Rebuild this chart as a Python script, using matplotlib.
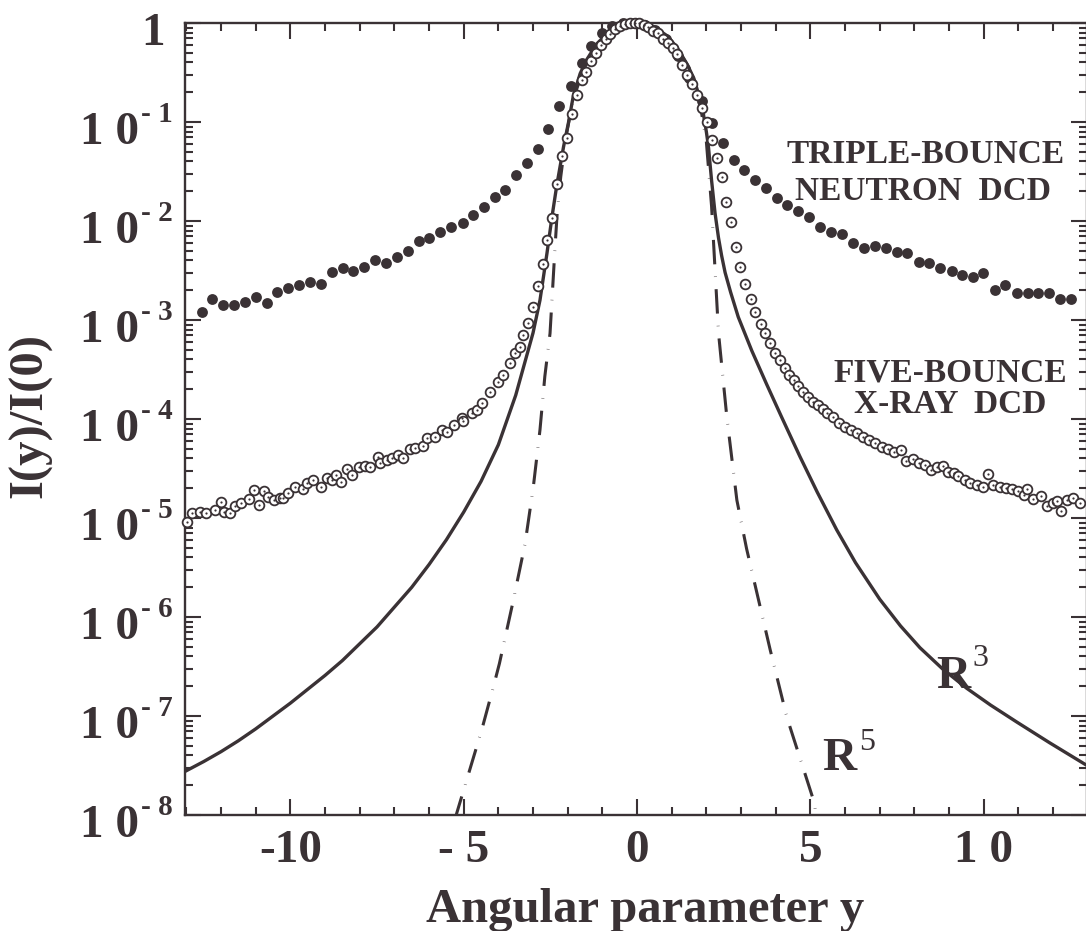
import numpy as np
import matplotlib
matplotlib.use('Agg')
import matplotlib.pyplot as plt
from matplotlib.ticker import MultipleLocator, LogLocator, NullFormatter

INK = '#3a3235'
plt.rcParams['font.family'] = ['Liberation Serif', 'DejaVu Serif']
plt.rcParams['font.weight'] = 'bold'

# ---------------- data (y values given as log10) -------------
neutron_x = [-12.56, -12.27, -11.93, -11.62, -11.31, -10.99, -10.68, -10.38, -10.06, -9.74,
             -9.43, -9.12, -8.81, -8.49, -8.18, -7.87, -7.56, -7.24, -6.93, -6.60,
             -6.28, -5.99, -5.68, -5.37, -5.03, -4.72, -4.41, -4.10, -3.81, -3.49,
             -3.18, -2.87, -2.56, -2.24, -1.91, -1.60, -1.34, -1.02, -0.71, -0.40,
             -0.09, 0.22, 0.53, 0.84, 1.17, 1.50, 1.865, 2.154, 2.47, 2.80,
             3.09, 3.40, 3.72, 4.03, 4.34, 4.65, 4.97, 5.28, 5.59, 5.90,
             6.24, 6.55, 6.86, 7.18, 7.49, 7.78, 8.12, 8.43, 8.74, 9.08,
             9.38, 9.69, 9.99, 10.33, 10.62, 10.97, 11.27, 11.58, 11.89, 12.21, 12.53]
neutron_log = [-2.917, -2.791, -2.848, -2.848, -2.815, -2.770, -2.831, -2.714, -2.680, -2.646,
               -2.613, -2.636, -2.512, -2.478, -2.502, -2.461, -2.394, -2.421, -2.365, -2.300,
               -2.199, -2.175, -2.108, -2.064, -2.017, -1.939, -1.862, -1.754, -1.687, -1.535,
               -1.411, -1.276, -1.070, -0.838, -0.636, -0.407, -0.232, -0.100, -0.030, 0.0,
               0.0, -0.020, -0.070, -0.160, -0.330, -0.560, -0.785, -1.007, -1.216, -1.384,
               -1.485, -1.586, -1.670, -1.771, -1.838, -1.896, -1.963, -2.057, -2.108, -2.132,
               -2.226, -2.276, -2.249, -2.276, -2.310, -2.320, -2.411, -2.421, -2.478, -2.500,
               -2.550, -2.565, -2.530, -2.700, -2.650, -2.725, -2.730, -2.725, -2.725, -2.790, -2.790]

xray_x = [-12.99, -12.85, -12.61, -12.42, -12.18, -12.00, -11.92, -11.74, -11.60, -11.43,
          -11.18, -11.05, -10.90, -10.76, -10.64, -10.47, -10.30, -10.20, -10.06, -9.87,
          -9.65, -9.53, -9.34, -9.13, -8.95, -8.81, -8.67, -8.55, -8.38, -8.23,
          -8.01, -7.85, -7.70, -7.46, -7.42, -7.22, -7.08, -6.89, -6.74, -6.55,
          -6.41, -6.18, -6.07, -5.83, -5.64, -5.49, -5.28, -5.06, -5.01, -4.77,
          -4.63, -4.48, -4.24, -4.00, -3.86, -3.67, -3.52, -3.38, -3.28, -3.14,
          -2.99, -2.85, -2.72, -2.60, -2.46, -2.32, -2.17, -2.03, -1.885, -1.74,
          -1.596, -1.47, -1.33, -1.18, -1.048, -0.904, -0.779, -0.635, -0.490, -0.346,
          -0.202, -0.058, 0.067, 0.202, 0.327, 0.471, 0.615, 0.760, 0.904, 1.029,
          1.144, 1.288, 1.433, 1.577, 1.74, 1.865, 2.01, 2.15, 2.30, 2.44,
          2.57, 2.70, 2.86, 2.97, 3.12, 3.28, 3.40, 3.57, 3.69, 3.84,
          3.98, 4.13, 4.27, 4.39, 4.52, 4.65, 4.80, 4.94, 5.09, 5.23,
          5.35, 5.47, 5.66, 5.84, 6.00, 6.16, 6.34, 6.53, 6.70, 6.87,
          7.06, 7.25, 7.41, 7.61, 7.76, 7.97, 8.14, 8.31, 8.48, 8.64,
          8.84, 8.98, 9.13, 9.27, 9.46, 9.61, 9.80, 9.97, 10.11, 10.28,
          10.47, 10.65, 10.81, 11.00, 11.15, 11.24, 11.43, 11.65, 11.82, 12.01,
          12.11, 12.22, 12.39, 12.59, 12.78]
xray_log = [-5.037, -4.953, -4.936, -4.953, -4.919, -4.835, -4.936, -4.953, -4.879, -4.852,
            -4.812, -4.717, -4.869, -4.724, -4.791, -4.818, -4.801, -4.801, -4.751, -4.690,
            -4.710, -4.643, -4.616, -4.690, -4.593, -4.616, -4.566, -4.633, -4.508, -4.566,
            -4.482, -4.475, -4.488, -4.381, -4.448, -4.414, -4.397, -4.364, -4.397, -4.306,
            -4.296, -4.269, -4.195, -4.185, -4.111, -4.128, -4.061, -3.993, -4.017, -3.943,
            -3.909, -3.842, -3.724, -3.623, -3.556, -3.438, -3.337, -3.269, -3.152, -3.027,
            -2.872, -2.657, -2.430, -2.192, -1.973, -1.626, -1.343, -1.160, -0.919, -0.727,
            -0.576, -0.490, -0.381, -0.300, -0.222, -0.165, -0.111, -0.064, -0.030, -0.010,
            0.0, 0.0, 0.0, -0.020, -0.044, -0.078, -0.104, -0.165, -0.205, -0.256,
            -0.313, -0.424, -0.525, -0.616, -0.727, -0.862, -0.997, -1.180, -1.367, -1.559,
            -1.805, -2.007, -2.259, -2.468, -2.640, -2.788, -2.916, -3.040, -3.135, -3.229,
            -3.330, -3.404, -3.488, -3.556, -3.610, -3.667, -3.724, -3.774, -3.825, -3.859,
            -3.900, -3.943, -3.976, -4.044, -4.077, -4.111, -4.145, -4.178, -4.212, -4.246,
            -4.280, -4.306, -4.330, -4.313, -4.421, -4.407, -4.448, -4.465, -4.515, -4.482,
            -4.475, -4.532, -4.549, -4.576, -4.616, -4.650, -4.667, -4.690, -4.556, -4.667,
            -4.690, -4.700, -4.710, -4.724, -4.768, -4.710, -4.812, -4.778, -4.879, -4.845,
            -4.825, -4.926, -4.818, -4.801, -4.845]

r3_x = [-13.04, -12.5, -12.0, -11.5, -11.0, -10.5, -10.0, -9.5, -9.0, -8.5,
        -8.0, -7.5, -7.0, -6.5, -6.0, -5.5, -5.0, -4.5, -4.0, -3.5,
        -3.0, -2.8, -2.6, -2.45, -2.32, -2.12, -1.98, -1.84, -1.64, -1.45,
        -1.16, -0.87, -0.50, 0.00, 0.50, 0.87, 1.16, 1.45, 1.64, 1.80,
        1.91, 2.00, 2.06, 2.15, 2.25, 2.35, 2.44, 2.54, 2.70, 2.92,
        3.31, 3.74, 4.17, 4.70, 5.20, 5.76, 6.30, 7.00, 7.60, 8.16,
        8.80, 9.51, 10.20, 10.95, 11.90, 12.98]
r3_log = [-7.56, -7.46, -7.36, -7.25, -7.13, -7.00, -6.87, -6.73, -6.59, -6.44,
          -6.27, -6.10, -5.90, -5.70, -5.47, -5.22, -4.94, -4.63, -4.26, -3.76,
          -3.13, -2.80, -2.33, -1.95, -1.65, -1.25, -1.01, -0.74, -0.51, -0.37,
          -0.21, -0.11, -0.03, 0.00, -0.04, -0.13, -0.25, -0.42, -0.56, -0.75,
          -0.91, -1.10, -1.25, -1.59, -1.92, -2.17, -2.35, -2.52, -2.72, -2.97,
          -3.31, -3.65, -3.98, -4.38, -4.74, -5.12, -5.45, -5.82, -6.09, -6.31,
          -6.52, -6.72, -6.89, -7.06, -7.27, -7.50]

r5_x = [-5.25, -5.20, -4.84, -4.48, -4.14, -3.97, -3.58, -3.23, -2.99, -2.80,
        -2.66, -2.51, -2.37, -2.30, -2.20, -2.05, -1.85, -1.50, -1.00, -0.50,
        0.00, 0.50, 1.00, 1.50, 1.80, 2.00, 2.15, 2.25, 2.35, 2.59,
        2.88, 3.16, 3.84, 4.32, 5.09, 5.20]
r5_log = [-8.05, -7.98, -7.56, -7.14, -6.70, -6.47, -5.85, -5.26, -4.68, -4.11,
          -3.57, -3.135, -2.29, -1.90, -1.55, -1.15, -0.78, -0.42, -0.17, -0.04,
          0.00, -0.04, -0.17, -0.45, -0.78, -1.20, -1.85, -2.49, -3.13, -3.98,
          -4.82, -5.31, -6.33, -7.01, -7.85, -8.05]

x_ticks = [-10, -5, 0, 5, 10]
x_tick_labels = ['-10', '- 5', '0', '5', '1 0']
y_decades = [1, 2, 3, 4, 5, 6, 7, 8]

# ---------------- figure -------------
W, H = 1086, 931
fig = plt.figure(figsize=(W / 100, H / 100), dpi=100)
ax = fig.add_axes([185 / W, 116 / H, 902 / W, 792 / H])
ax.set_yscale('log')
ax.set_xlim(-13.04, 12.98)
ax.set_ylim(1e-8, 1)

ax.plot(r3_x, 10.0 ** np.array(r3_log), color=INK, lw=2.4, zorder=2)
ax.plot(r5_x, 10.0 ** np.array(r5_log), color=INK, lw=2.2, zorder=2,
        linestyle=(0, (8, 4.0, 0.15, 4.0)), dash_capstyle='butt')
ax.plot(neutron_x, 10.0 ** np.array(neutron_log), 'o', ms=7.8, mfc=INK, mec=INK,
        mew=0, zorder=3, clip_on=False)
ax.plot(xray_x, 10.0 ** np.array(xray_log), 'o', ms=7.0, mfc='white', mec=INK,
        mew=1.3, zorder=4, clip_on=False)
ax.plot(xray_x, 10.0 ** np.array(xray_log), 'o', ms=1.6, mfc=INK, mec=INK,
        mew=0, zorder=5, clip_on=False)

# ticks
ax.set_xticks(x_ticks)
ax.set_xticklabels(x_tick_labels)
ax.xaxis.set_minor_locator(MultipleLocator(1))
ax.yaxis.set_major_locator(LogLocator(base=10, numticks=20))
ax.yaxis.set_minor_locator(LogLocator(base=10, subs=np.arange(2, 10), numticks=20))
ax.yaxis.set_major_formatter(NullFormatter())
ax.yaxis.set_minor_formatter(NullFormatter())
ax.tick_params(which='both', direction='in', top=True, right=True, width=1.5, color=INK)
ax.tick_params(which='major', length=11.5)
ax.tick_params(which='minor', length=5.5)
ax.tick_params(axis='x', labelsize=34, pad=11, labelcolor=INK)
for lab in ax.get_xticklabels():
    lab.set_fontweight('bold')
for sp in ax.spines.values():
    sp.set_linewidth(1.7)
    sp.set_color(INK)

# y tick labels  "1 0^- k"
ax.annotate('1', xy=(0, 1.0), xycoords=('axes fraction', 'data'), xytext=(-14.4, -15.8),
            textcoords='offset points', ha='right', va='baseline', fontsize=34,
            color=INK, annotation_clip=False)
for k in y_decades:
    ax.annotate('1 0', xy=(0, 10.0 ** -k), xycoords=('axes fraction', 'data'),
                xytext=(-33.1, -15.8), textcoords='offset points', ha='right',
                va='baseline', fontsize=34, color=INK, annotation_clip=False)
    ax.annotate('- %d' % k, xy=(0, 10.0 ** -k), xycoords=('axes fraction', 'data'),
                xytext=(-31.5, 0), textcoords='offset points', ha='left',
                va='baseline', fontsize=21, color=INK, annotation_clip=False)

# axis labels
fig.text(645 / W, 9 / H, 'Angular parameter y', ha='center', va='baseline',
         fontsize=35, color=INK)
fig.text(30 / W, 1 - 415 / H, 'I(y)/I(0)', rotation=90, ha='center', va='center',
         fontsize=35, color=INK)

# annotations
fig.text(926 / W, 1 - 163 / H, 'TRIPLE-BOUNCE', ha='center', va='baseline', fontsize=24, color=INK)
fig.text(923 / W, 1 - 200 / H, 'NEUTRON  DCD', ha='center', va='baseline', fontsize=24, color=INK)
fig.text(950 / W, 1 - 382 / H, 'FIVE-BOUNCE', ha='center', va='baseline', fontsize=24, color=INK)
fig.text(950 / W, 1 - 413 / H, 'X-RAY  DCD', ha='center', va='baseline', fontsize=24, color=INK)

fig.text(936 / W, 1 - 688 / H, 'R', ha='left', va='baseline', fontsize=34, color=INK)
fig.text(972 / W, 1 - 666 / H, '3', ha='left', va='baseline', fontsize=23,
         fontweight='normal', color=INK)
fig.text(822 / W, 1 - 770 / H, 'R', ha='left', va='baseline', fontsize=34, color=INK)
fig.text(859 / W, 1 - 750 / H, '5', ha='left', va='baseline', fontsize=23,
         fontweight='normal', color=INK)

fig.savefig('out.png', dpi=100, facecolor='white')
